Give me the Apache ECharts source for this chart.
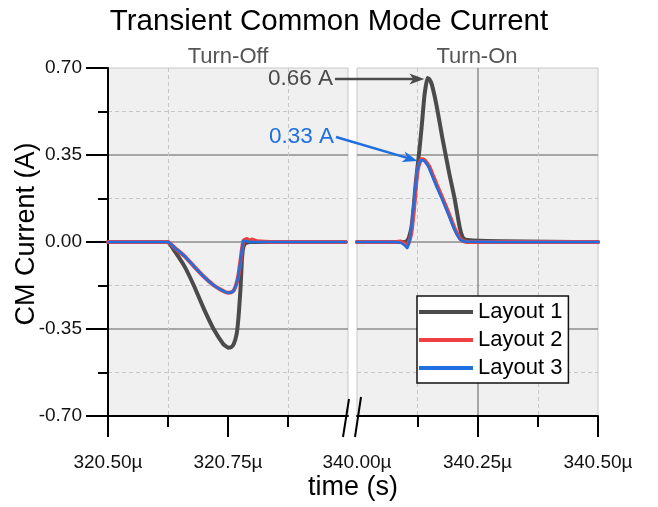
<!DOCTYPE html>
<html>
<head>
<meta charset="utf-8">
<script src="https://cdn.jsdelivr.net/npm/echarts@6/dist/echarts.min.js"></script>
<style>
  html, body { margin: 0; padding: 0; background: #fff; }
  #chart { width: 658px; height: 507px; }
</style>
</head>
<body>
<div id="chart"></div>
<script>
// turn-off window (µs)
const timeOff = [320.50, 320.55, 320.60, 320.625, 320.64, 320.66, 320.68, 320.70, 320.72, 320.74, 320.75,
  320.756, 320.762, 320.768, 320.772, 320.776, 320.779, 320.782, 320.786, 320.79, 320.795, 320.80,
  320.81, 320.85, 320.90, 320.95, 320.995];
const layout1Off = [0, 0, 0, 0, -0.04, -0.10, -0.18, -0.27, -0.35, -0.41, -0.425,
  -0.424, -0.41, -0.37, -0.30, -0.19, -0.07, -0.02, -0.006, -0.002, 0, 0,
  0, 0, 0, 0, 0];
const layout2Off = [0, 0, 0, 0, -0.025, -0.058, -0.10, -0.14, -0.174, -0.197, -0.204,
  -0.203, -0.195, -0.165, -0.13, -0.075, -0.03, 0.004, 0.01, 0.012, 0.004, 0.01,
  0.003, 0, 0, 0, 0];
const layout3Off = [0, 0, 0, 0, -0.025, -0.058, -0.10, -0.14, -0.174, -0.197, -0.204,
  -0.203, -0.195, -0.165, -0.13, -0.075, -0.03, 0.004, 0.005, 0.002, 0.001, 0,
  0, 0, 0, 0, 0];

// turn-on window (µs)
const timeOn = [340.00, 340.05, 340.08, 340.09, 340.095, 340.100, 340.104, 340.108, 340.113, 340.118,
  340.122, 340.126, 340.130, 340.134, 340.140, 340.146, 340.150, 340.155, 340.165, 340.177,
  340.192, 340.202, 340.213, 340.219, 340.224, 340.229, 340.24, 340.30, 340.40, 340.50];
const layout1On = [0, 0, 0, 0, 0, 0, 0.005, 0.02, 0.06, 0.15,
  0.24, 0.31, 0.38, 0.46, 0.59, 0.66, 0.655, 0.635, 0.55, 0.42,
  0.27, 0.18, 0.06, 0.02, 0.01, 0.008, 0.006, 0.003, 0.001, 0];
const layout2On = [0, 0, 0, 0.002, -0.002, -0.008, -0.014, 0, 0.04, 0.13,
  0.22, 0.29, 0.32, 0.333, 0.33, 0.315, 0.303, 0.28, 0.232, 0.178,
  0.107, 0.057, 0.016, 0.005, 0.002, 0, 0, 0, 0, 0];
const layout3On = [0, 0, 0, -0.003, -0.008, -0.015, -0.025, -0.005, 0.06, 0.16,
  0.24, 0.30, 0.32, 0.33, 0.325, 0.31, 0.295, 0.27, 0.222, 0.17,
  0.10, 0.05, 0.012, 0.004, 0.002, 0.001, 0.001, 0, 0, 0];

const offTicks = [320.50, 320.75];
const onTicks = [340.25, 340.50];
const onLabels = [340.00, 340.25, 340.50];

const names = ['Layout 1', 'Layout 2', 'Layout 3'];
const colors = ['#4b4b4b', '#ee4040', '#1f6fe0'];
const widths = [4, 4, 2.6];

const FONT = "'Liberation Sans', Arial, sans-serif";

function pairs(xs, ys) {
  return xs.map((x, i) => [x, ys[i]]);
}

function xAxisFor(grid, min, max, ticks, labels) {
  return {
    gridIndex: grid, type: 'value', min: min, max: max, interval: 0.25,
    axisLine: { show: true, onZero: false, lineStyle: { color: '#000', width: 2 } },
    axisTick: { show: true, length: 21, customValues: ticks, lineStyle: { color: '#000', width: 2 } },
    minorTick: { show: true, splitNumber: 2, length: 11, lineStyle: { color: '#000', width: 2 } },
    axisLabel: {
      customValues: labels, margin: 37, fontSize: 19, color: '#111', fontFamily: FONT,
      formatter: v => v.toFixed(2) + 'µ'
    },
    splitLine: { show: true, showMinLine: grid === 1, showMaxLine: false, lineStyle: { color: '#8e8e8e', width: 1.5 } },
    minorSplitLine: { show: true, lineStyle: { color: '#c6c6c6', width: 1, type: [4, 3] } }
  };
}

function yAxisFor(grid) {
  const left = grid === 0;
  return {
    gridIndex: grid, type: 'value', min: -0.7, max: 0.7, interval: 0.35,
    axisLine: { show: left, lineStyle: { color: '#000', width: 2 } },
    axisTick: { show: left, length: 22, lineStyle: { color: '#000', width: 2 } },
    minorTick: { show: left, splitNumber: 2, length: 10, lineStyle: { color: '#000', width: 2 } },
    axisLabel: { show: left, margin: 26, fontSize: 19, color: '#111', fontFamily: FONT, formatter: v => v.toFixed(2) },
    splitLine: { show: true, showMinLine: false, showMaxLine: false, lineStyle: { color: '#8e8e8e', width: 1.5 } },
    minorSplitLine: { show: true, lineStyle: { color: '#c6c6c6', width: 1, type: [4, 3] } }
  };
}

const offData = [layout1Off, layout2Off, layout3Off];
const onData = [layout1On, layout2On, layout3On];
const series = [];
[[timeOff, offData, 0], [timeOn, onData, 1]].forEach(([ts, sets, g]) => {
  sets.forEach((vals, i) => {
    series.push({
      name: names[i], type: 'line', xAxisIndex: g, yAxisIndex: g,
      data: pairs(ts, vals), showSymbol: false, symbol: 'none', smooth: 0.12,
      lineStyle: { color: colors[i], width: widths[i], join: 'round', cap: 'round' },
      itemStyle: { color: colors[i] },
      z: 3 + i
    });
  });
});

const chart = echarts.init(document.getElementById('chart'));
chart.setOption({
  animation: false,
  title: {
    text: 'Transient Common Mode Current', left: 'center', top: 2,
    textStyle: { fontSize: 29.5, fontWeight: 'normal', color: '#000', fontFamily: FONT }
  },
  grid: [
    { left: 108, top: 68, width: 240, height: 348, show: true, backgroundColor: '#f0f0f0', borderColor: '#c8c8c8', borderWidth: 1 },
    { left: 357, top: 68, width: 241, height: 348, show: true, backgroundColor: '#f0f0f0', borderColor: '#c8c8c8', borderWidth: 1 }
  ],
  xAxis: [xAxisFor(0, 320.5, 321.0, offTicks, offTicks), xAxisFor(1, 340.0, 340.5, onTicks, onLabels)],
  yAxis: [yAxisFor(0), yAxisFor(1)],
  legend: {
    data: names, orient: 'vertical', left: 417, top: 296,
    backgroundColor: '#fff', borderColor: '#111', borderWidth: 1.5, borderRadius: 0,
    padding: [5, 6, 4, 2], itemGap: 6, itemWidth: 54, itemHeight: 4, icon: 'rect',
    textStyle: { fontSize: 22, lineHeight: 22, color: '#000', fontFamily: FONT }
  },
  series: series
});

// annotation arrows pointing at the turn-on peaks
function peakOf(ts, vals) {
  let k = 0;
  vals.forEach((v, i) => { if (v > vals[k]) k = i; });
  return [ts[k], vals[k]];
}

function arrow(x0, y0, x1, y1, color) {
  const dx = x1 - x0, dy = y1 - y0, L = Math.hypot(dx, dy);
  const ux = dx / L, uy = dy / L, hl = 15, hw = 5.5;
  const bx = x1 - ux * hl, by = y1 - uy * hl;
  const nx = x1 - ux * (hl - 4), ny = y1 - uy * (hl - 4);
  return [
    { type: 'line', shape: { x1: x0, y1: y0, x2: nx, y2: ny }, style: { stroke: color, lineWidth: 2.5 }, z: 50 },
    { type: 'polygon', shape: { points: [[x1, y1], [bx - uy * hw, by + ux * hw], [nx, ny], [bx + uy * hw, by - ux * hw]] }, style: { fill: color }, z: 50 }
  ];
}

const p1 = chart.convertToPixel({ gridIndex: 1 }, peakOf(timeOn, layout1On));
const p3 = chart.convertToPixel({ gridIndex: 1 }, peakOf(timeOn, layout3On));

const graphics = [
  { type: 'text', x: 228, y: 57, style: { text: 'Turn-Off', fontSize: 22, fill: '#555', fontFamily: FONT, align: 'center', verticalAlign: 'middle' } },
  { type: 'text', x: 477, y: 57, style: { text: 'Turn-On', fontSize: 22, fill: '#555', fontFamily: FONT, align: 'center', verticalAlign: 'middle' } },
  { type: 'text', x: 27, y: 234, rotation: Math.PI / 2, style: { text: 'CM Current (A)', fontSize: 27, fill: '#000', fontFamily: FONT, align: 'center', verticalAlign: 'middle' } },
  { type: 'text', x: 353, y: 488, style: { text: 'time (s)', fontSize: 27, fill: '#000', fontFamily: FONT, align: 'center', verticalAlign: 'middle' } },
  { type: 'text', x: 333, y: p1[1] + 1, style: { text: '0.66 A', fontSize: 22.5, fill: '#4b4b4b', fontFamily: FONT, align: 'right', verticalAlign: 'middle' }, z: 50 },
  { type: 'text', x: 334, y: 137, style: { text: '0.33 A', fontSize: 22.5, fill: '#1f6fe0', fontFamily: FONT, align: 'right', verticalAlign: 'middle' }, z: 50 },
  // axis break marks
  { type: 'line', shape: { x1: 343, y1: 437, x2: 349, y2: 399 }, style: { stroke: '#000', lineWidth: 2 }, z: 60 },
  { type: 'line', shape: { x1: 355, y1: 437, x2: 361, y2: 397 }, style: { stroke: '#000', lineWidth: 2 }, z: 60 }
]
  .concat(arrow(335, p1[1] + 1, p1[0] - 3, p1[1] + 1, '#4b4b4b'))
  .concat(arrow(336, 137, p3[0] - 4, p3[1] + 1, '#1f6fe0'));

chart.setOption({ graphic: graphics });
</script>
</body>
</html>
